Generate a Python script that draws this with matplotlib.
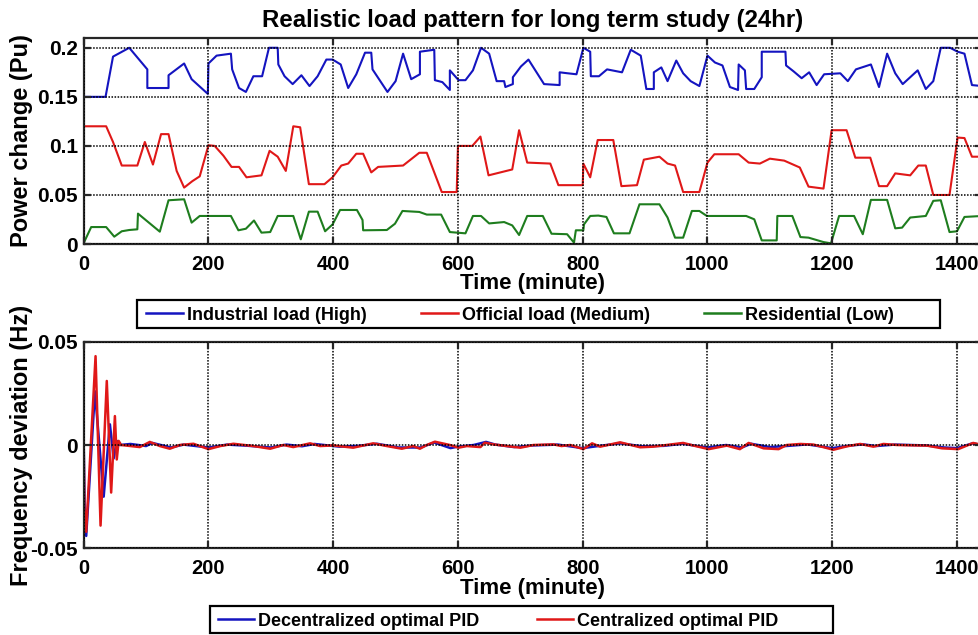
import matplotlib
matplotlib.use('Agg')
import matplotlib.pyplot as plt
import matplotlib.patches as patches

plt.rcParams['font.family'] = ['Liberation Sans', 'DejaVu Sans']
plt.rcParams['font.weight'] = 'bold'

# --- 数据: 负荷曲线 (分钟, p.u.) ---
ind_t = [0, 35, 47, 73, 102, 102, 136, 136, 161, 173, 199, 200, 213, 236, 238, 249, 260, 272, 286,
         297, 311, 312, 322, 335, 349, 362, 375, 389, 399, 412, 424, 437, 451, 461, 463, 487, 500,
         512, 525, 539, 539, 562, 563, 575, 587, 587, 601, 612, 624, 637, 650, 662, 674, 676, 688,
         688, 701, 713, 726, 738, 763, 763, 776, 790, 801, 812, 813, 826, 839, 863, 877, 893, 902,
         914, 914, 926, 936, 950, 961, 973, 987, 1000, 1012, 1024, 1036, 1049, 1050, 1060, 1062,
         1075, 1087, 1087, 1125, 1126, 1138, 1151, 1163, 1175, 1187, 1213, 1225, 1238, 1262, 1275,
         1288, 1301, 1313, 1337, 1350, 1362, 1374, 1389, 1401, 1412, 1424, 1440]
ind_v = [0.150, 0.150, 0.191, 0.200, 0.178, 0.159, 0.159, 0.172, 0.184, 0.168, 0.153, 0.184, 0.192,
         0.194, 0.178, 0.159, 0.155, 0.171, 0.171, 0.200, 0.200, 0.183, 0.171, 0.163, 0.172, 0.161,
         0.171, 0.188, 0.188, 0.183, 0.159, 0.173, 0.195, 0.195, 0.178, 0.155, 0.166, 0.194, 0.168,
         0.173, 0.196, 0.198, 0.167, 0.165, 0.157, 0.177, 0.167, 0.167, 0.177, 0.200, 0.194, 0.166,
         0.166, 0.160, 0.163, 0.170, 0.181, 0.188, 0.175, 0.163, 0.162, 0.175, 0.174, 0.173, 0.200,
         0.196, 0.171, 0.171, 0.178, 0.175, 0.198, 0.192, 0.158, 0.158, 0.175, 0.180, 0.166, 0.187,
         0.174, 0.166, 0.161, 0.192, 0.185, 0.182, 0.160, 0.157, 0.183, 0.177, 0.158, 0.158, 0.170,
         0.196, 0.196, 0.182, 0.176, 0.169, 0.175, 0.162, 0.173, 0.174, 0.166, 0.178, 0.183, 0.160,
         0.194, 0.174, 0.163, 0.177, 0.158, 0.166, 0.200, 0.200, 0.196, 0.194, 0.162, 0.161]

off_t = [0, 36, 47, 61, 86, 98, 111, 124, 136, 149, 161, 174, 186, 200, 210, 224, 237, 249, 261, 285,
         298, 311, 324, 336, 347, 361, 386, 399, 413, 424, 437, 448, 461, 472, 512, 526, 538, 550,
         574, 598, 600, 623, 636, 649, 687, 698, 711, 748, 761, 800, 801, 812, 824, 849, 862, 887,
         898, 923, 936, 948, 961, 987, 1000, 1011, 1050, 1066, 1084, 1100, 1123, 1148, 1162, 1186,
         1199, 1223, 1237, 1261, 1275, 1288, 1301, 1325, 1338, 1350, 1362, 1388, 1401, 1412, 1424, 1440]
off_v = [0.120, 0.120, 0.104, 0.080, 0.080, 0.104, 0.081, 0.112, 0.112, 0.0745, 0.0575, 0.064, 0.069,
         0.1007, 0.100, 0.090, 0.0786, 0.0786, 0.068, 0.070, 0.095, 0.089, 0.0745, 0.120, 0.119,
         0.061, 0.061, 0.068, 0.080, 0.082, 0.092, 0.092, 0.073, 0.0786, 0.080, 0.087, 0.093, 0.093,
         0.053, 0.053, 0.100, 0.100, 0.1095, 0.070, 0.076, 0.116, 0.083, 0.082, 0.060, 0.060, 0.082,
         0.068, 0.106, 0.106, 0.059, 0.060, 0.086, 0.089, 0.082, 0.080, 0.053, 0.053, 0.083, 0.0915,
         0.0915, 0.083, 0.082, 0.087, 0.085, 0.078, 0.0585, 0.0565, 0.116, 0.116, 0.088, 0.088,
         0.059, 0.059, 0.072, 0.070, 0.080, 0.080, 0.050, 0.050, 0.1085, 0.108, 0.089, 0.089]

res_t = [0, 12, 36, 49, 61, 73, 86, 87, 122, 136, 161, 173, 186, 236, 248, 260, 273, 285, 299, 311,
         336, 348, 361, 375, 387, 399, 411, 438, 447, 448, 486, 499, 511, 538, 550, 573, 587, 612,
         624, 637, 650, 674, 687, 698, 711, 736, 750, 775, 786, 789, 801, 802, 812, 825, 838, 850,
         875, 891, 923, 936, 948, 961, 975, 987, 999, 1062, 1075, 1087, 1111, 1112, 1136, 1149,
         1162, 1186, 1198, 1211, 1235, 1249, 1262, 1288, 1301, 1312, 1325, 1350, 1362, 1374, 1388,
         1400, 1412, 1440]
res_v = [0.001, 0.0173, 0.0173, 0.0075, 0.013, 0.0143, 0.015, 0.031, 0.0126, 0.0446, 0.0456, 0.0218,
         0.0286, 0.0286, 0.014, 0.0156, 0.024, 0.0116, 0.0122, 0.0286, 0.0286, 0.0048, 0.033, 0.033,
         0.013, 0.020, 0.0347, 0.0347, 0.0245, 0.014, 0.0143, 0.0207, 0.0337, 0.0327, 0.030, 0.030,
         0.0122, 0.0109, 0.0286, 0.0286, 0.021, 0.0224, 0.019, 0.0092, 0.0286, 0.0286, 0.0105, 0.010,
         0.0014, 0.014, 0.014, 0.020, 0.0286, 0.029, 0.0276, 0.0109, 0.0109, 0.0405, 0.0405, 0.027,
         0.0065, 0.0065, 0.0337, 0.0337, 0.0286, 0.0286, 0.0252, 0.0037, 0.0037, 0.0286, 0.0286,
         0.0071, 0.0065, 0.002, 0.0007, 0.0286, 0.0286, 0.010, 0.045, 0.045, 0.016, 0.0167, 0.027,
         0.0286, 0.044, 0.0446, 0.0122, 0.013, 0.0276, 0.0286]

# --- 数据: 频率偏差 (Hz) ---
dec_t = [0, 1.5, 4, 18, 32, 42, 48, 53, 58, 75, 100, 110, 140, 160, 200, 230, 260, 300, 325, 350,
         370, 410, 440, 470, 505, 540, 562, 588, 600, 625, 645, 660, 690, 720, 760, 800, 830, 860,
         895, 930, 960, 1000, 1030, 1055, 1070, 1100, 1130, 1160, 1200, 1230, 1250, 1270, 1300,
         1350, 1380, 1400, 1425, 1440]
dec_v = [0, -0.03, -0.044, 0.026, -0.025, 0.010, -0.0065, 0.002, 0, 0.0005, -0.0005, 0.001, -0.0012,
         0.0002, -0.0012, 0.0002, -0.0003, -0.0012, 0.0002, -0.0006, 0.0005, -0.0008, -0.0004,
         0.0006, -0.0012, -0.0012, 0.0012, -0.0015, -0.0008, 0, 0.0015, 0.0002, -0.001, -0.0002,
         0.0002, -0.0015, -0.0003, 0.0008, -0.0006, -0.0004, 0.0006, -0.0012, 0, -0.0012, 0.0006,
         -0.001, -0.0004, 0.0003, -0.0015, -0.0002, 0.0003, -0.0005, 0.0002, -0.0002, -0.0012,
         -0.0015, 0.0008, 0]

cen_t = [0, 1, 4, 19, 27, 37, 44, 50, 53, 56, 60, 90, 106, 122, 138, 154, 176, 200, 219, 240, 272,
         299, 320, 336, 363, 379, 400, 432, 464, 486, 510, 528, 539, 550, 563, 587, 601, 614, 636,
         643, 657, 700, 721, 753, 766, 780, 801, 815, 828, 860, 892, 913, 961, 978, 1002, 1031,
         1052, 1066, 1090, 1114, 1127, 1149, 1170, 1202, 1224, 1245, 1266, 1282, 1304, 1352, 1376,
         1402, 1426, 1440]
cen_v = [0, -0.03, -0.042, 0.043, -0.039, 0.031, -0.023, 0.014, -0.007, 0.002, 0, -0.001, 0.0015,
         -0.0005, -0.0018, 0, 0.0006, -0.002, -0.0005, 0.0006, -0.0005, -0.0018, 0, -0.001, 0.0008,
         -0.0005, -0.0002, -0.0013, 0.0008, -0.0005, -0.0018, -0.0005, -0.0018, 0, 0.0016, 0,
         -0.0013, -0.0005, -0.001, 0.0011, 0.0003, -0.0013, 0, 0.0003, -0.0005, 0, -0.002, 0.0008,
         -0.0008, 0.0013, -0.0011, -0.0008, 0.001, -0.0003, -0.002, -0.0003, -0.002, 0.001, -0.0016,
         -0.002, 0, 0.0005, 0.0002, -0.0023, -0.0006, 0.0005, -0.0008, 0.0005, 0, -0.0003, -0.0016,
         -0.002, 0.001, 0]

x_ticks = [0, 200, 400, 600, 800, 1000, 1200, 1400]
top_yticks = [0, 0.05, 0.1, 0.15, 0.2]
top_ylabels = ['0', '0.05', '0.1', '0.15', '0.2']
bot_yticks = [-0.05, 0, 0.05]
bot_ylabels = ['-0.05', '0', '0.05']

BLUE = '#1414c0'
RED = '#e01818'
GREEN = '#1e7d1e'
SPINE = '#262626'
W, H = 979, 635


def style_axes(ax):
    for s in ax.spines.values():
        s.set_linewidth(1.6)
        s.set_color(SPINE)
    ax.tick_params(direction='in', length=5, width=1.6, color=SPINE, top=True, right=True)
    ax.tick_params(axis='x', labelsize=14.5, pad=8)
    ax.tick_params(axis='y', labelsize=15, pad=4)
    ax.grid(True, linestyle=(0, (1, 1)), color='k', linewidth=1.1)
    ax.set_axisbelow(False)


def box_legend(handles, labels, x_left, y_mid, box, colsp, hlen):
    """MATLAB 风格图例: 无框 legend + 手动画外框"""
    lg = fig.legend(handles, labels, loc='center left', bbox_to_anchor=(x_left / W, 1 - y_mid / H),
                    ncol=len(labels), fontsize=13, frameon=False, handlelength=hlen,
                    handletextpad=0.22, columnspacing=colsp, borderpad=0, borderaxespad=0)
    for line in lg.get_lines():
        line.set_linewidth(1.8)
    x0, y0, x1, y1 = box
    fig.add_artist(patches.Rectangle((x0 / W, 1 - y1 / H), (x1 - x0) / W, (y1 - y0) / H,
                                     transform=fig.transFigure, fill=False, edgecolor='k',
                                     linewidth=1.6))
    return lg


fig = plt.figure(figsize=(9.79, 6.35), dpi=100)

# 上图: 负荷模式
ax1 = fig.add_axes([0.0855, 0.6157, 0.9175, 0.3245])
ax1.plot(ind_t, ind_v, color=BLUE, lw=1.5, label='Industrial load (High)')
ax1.plot(off_t, off_v, color=RED, lw=1.5, label='Official load (Medium)')
ax1.plot(res_t, res_v, color=GREEN, lw=1.5, label='Residential (Low)')
ax1.set_xlim(0, 1440)
ax1.set_ylim(0, 0.21)
ax1.set_xticks(x_ticks)
ax1.set_yticks(top_yticks)
ax1.set_yticklabels(top_ylabels)
style_axes(ax1)
ax1.set_title('Realistic load pattern for long term study (24hr)', fontsize=17.3, weight='bold', pad=8)
ax1.set_xlabel('Time (minute)', fontsize=16, weight='bold')
ax1.set_ylabel('Power change (Pu)', fontsize=17, weight='bold')
ax1.xaxis.set_label_coords(0.5, -0.14)
ax1.yaxis.set_label_coords(-0.056, 0.5)

# 下图: 频率偏差
ax2 = fig.add_axes([0.0855, 0.1365, 0.9175, 0.3254])
ax2.plot(dec_t, dec_v, color=BLUE, lw=1.8, label='Decentralized optimal PID')
ax2.plot(cen_t, cen_v, color=RED, lw=1.8, label='Centralized optimal PID')
ax2.set_xlim(0, 1440)
ax2.set_ylim(-0.05, 0.05)
ax2.set_xticks(x_ticks)
ax2.set_yticks(bot_yticks)
ax2.set_yticklabels(bot_ylabels)
style_axes(ax2)
ax2.set_xlabel('Time (minute)', fontsize=16, weight='bold')
ax2.set_ylabel('Frequency deviation (Hz)', fontsize=17, weight='bold')
ax2.xaxis.set_label_coords(0.5, -0.145)
ax2.yaxis.set_label_coords(-0.056, 0.5)

# 图例
h1, l1 = ax1.get_legend_handles_labels()
box_legend(h1, l1, 146, 315, (137, 300, 940, 328), colsp=3.0, hlen=2.05)
h2, l2 = ax2.get_legend_handles_labels()
box_legend(h2, l2, 218, 621, (210, 606, 833, 633), colsp=3.2, hlen=2.0)

fig.savefig('out.png', dpi=100)
